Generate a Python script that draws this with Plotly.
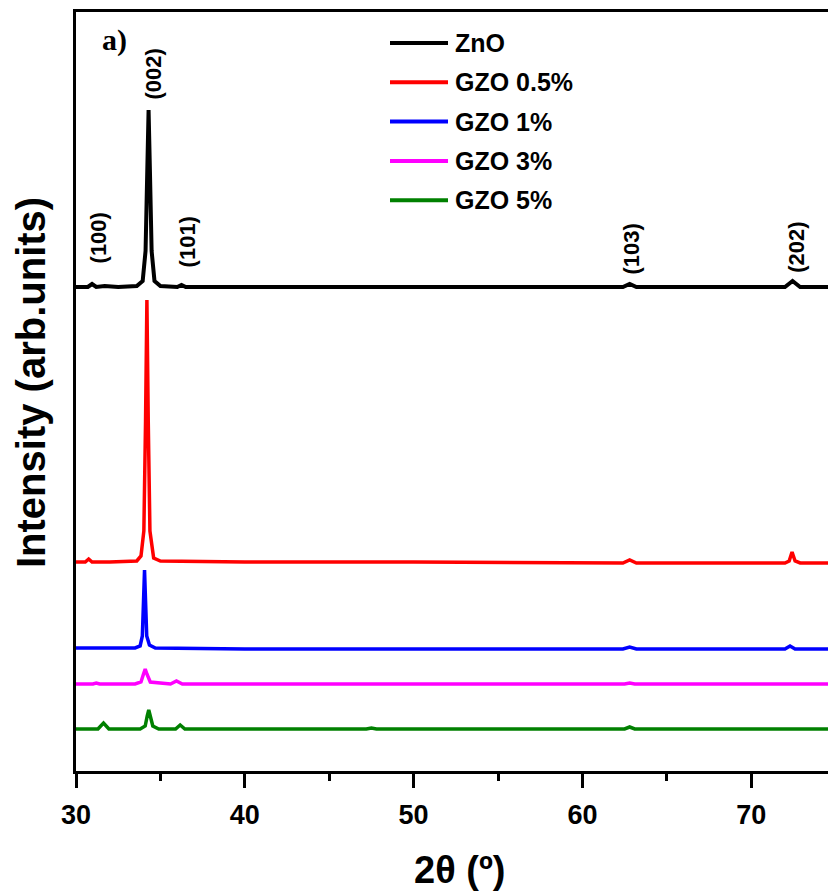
import plotly.graph_objects as go

# ---------------- data (2θ in degrees, intensity in arb. units, stacked) ----------------
names = ["ZnO", "GZO 0.5%", "GZO 1%", "GZO 3%", "GZO 5%"]
colors = ["#000000", "#ff0000", "#0000ff", "#ff00ff", "#008000"]

x_zno = [30, 30.7, 30.95, 31.2, 31.7, 32.5, 33.6, 33.95, 34.12, 34.22, 34.30, 34.38, 34.48, 34.65, 35.0,
         36.0, 36.25, 36.5, 40, 47.5, 55, 62.4, 62.8, 63.2, 72.0, 72.45, 72.9, 74.6]
y_zno = [484, 484, 487, 484, 485, 484, 485, 490, 520, 600, 661, 600, 520, 490, 485,
         484, 486, 484, 484, 484, 484, 484, 487, 484, 484, 490, 484, 484]

x_gzo05 = [30, 30.55, 30.75, 30.95, 32, 33.6, 33.85, 34.02, 34.12, 34.2, 34.28, 34.38, 34.6, 35.0,
           40, 50, 62.4, 62.8, 63.2, 72.0, 72.25, 72.42, 72.6, 72.9, 74.6]
y_gzo05 = [209, 209, 212, 209, 209, 210, 215, 240, 350, 471, 350, 240, 213, 210,
           209, 209, 208, 211, 208, 208, 210, 219, 210, 208, 208]

x_gzo1 = [30, 31.0, 33.5, 33.8, 33.93, 34.0, 34.06, 34.12, 34.19, 34.35, 34.7, 40, 50,
          62.4, 62.8, 63.2, 72.0, 72.3, 72.6, 74.6]
y_gzo1 = [123, 123, 123, 125, 135, 170, 201, 170, 135, 126, 123, 122, 122,
          122, 124, 122, 122, 125, 122, 122]

x_gzo3 = [30, 31.0, 31.2, 31.4, 33.5, 33.85, 34.0, 34.1, 34.2, 34.4, 35.6, 35.95, 36.3, 40, 50,
          62.5, 62.8, 63.1, 74.6]
y_gzo3 = [87, 87, 88, 87, 87, 89, 97, 102, 97, 89, 87, 90, 87, 87, 87,
          87, 88, 87, 87]

x_gzo5 = [30, 31.3, 31.63, 31.95, 33.8, 34.1, 34.22, 34.31, 34.4, 34.55, 34.9, 35.9, 36.17, 36.45,
          47.2, 47.5, 47.8, 62.5, 62.8, 63.1, 74.6]
y_gzo5 = [42, 42, 48, 42, 42, 45, 55, 61, 55, 45, 42, 42, 46, 42,
          42, 43, 42, 42, 44, 42, 42]

xs = [x_zno, x_gzo05, x_gzo1, x_gzo3, x_gzo5]
ys = [y_zno, y_gzo05, y_gzo1, y_gzo3, y_gzo5]

# Miller-index labels: (label, 2θ position, label centre intensity)
hkl_labels = ["(100)", "(002)", "(101)", "(103)", "(202)"]
hkl_x = [31.33, 34.59, 36.6, 62.85, 72.64]
hkl_y = [533, 697, 529, 522, 524]

x_ticks = [30, 40, 50, 60, 70]

# ---------------- layout geometry ----------------
W, H = 828, 895
ML, MR, MT, MB = 76, 0, 12, 124
PW, PH = W - ML - MR, H - MT - MB

def px_to_paper_x(px):
    return (px - ML) / PW

def px_to_paper_y(py):
    return (H - MB - py) / PH

FONT = "Liberation Sans, Arial, sans-serif"

fig = go.Figure()
for i in range(len(names)):
    fig.add_trace(go.Scatter(
        x=xs[i], y=ys[i], mode="lines", name=names[i],
        line=dict(color=colors[i], width=4 if i == 0 else 3.5),
        showlegend=False,
    ))

annotations = []
for lab, lx, ly in zip(hkl_labels, hkl_x, hkl_y):
    annotations.append(dict(
        x=lx, y=ly, xref="x", yref="y", text=lab, showarrow=False,
        textangle=-90, font=dict(family=FONT, size=22, color="black", weight="bold"),
        xanchor="center", yanchor="middle",
    ))

# panel label
annotations.append(dict(
    x=px_to_paper_x(114), y=px_to_paper_y(40), xref="paper", yref="paper",
    text="<b>a)</b>", showarrow=False,
    font=dict(family="Liberation Serif, Times New Roman, serif", size=30, color="black"),
    xanchor="center", yanchor="middle",
))

# axis titles
annotations.append(dict(
    x=px_to_paper_x(459), y=px_to_paper_y(870), xref="paper", yref="paper",
    text="2θ (º)", showarrow=False,
    font=dict(family=FONT, size=38, color="black", weight="bold"),
    xanchor="center", yanchor="middle",
))
annotations.append(dict(
    x=px_to_paper_x(31), y=px_to_paper_y(383), xref="paper", yref="paper",
    text="Intensity (arb.units)", showarrow=False, textangle=-90,
    font=dict(family=FONT, size=40, color="black", weight="bold"),
    xanchor="center", yanchor="middle",
))

# custom legend
shapes = []
leg_y0, leg_dy = 43, 39.3
for i, nm in enumerate(names):
    yy = px_to_paper_y(leg_y0 + i * leg_dy)
    shapes.append(dict(
        type="line", xref="paper", yref="paper",
        x0=px_to_paper_x(390), x1=px_to_paper_x(448), y0=yy, y1=yy,
        line=dict(color=colors[i], width=4),
    ))
    annotations.append(dict(
        x=px_to_paper_x(453), y=yy, xref="paper", yref="paper",
        text=nm, showarrow=False, xanchor="left", yanchor="middle",
        font=dict(family=FONT, size=25, color="black", weight="bold"),
    ))

fig.update_layout(
    width=W, height=H,
    margin=dict(l=ML, r=MR, t=MT, b=MB),
    paper_bgcolor="white", plot_bgcolor="white",
    showlegend=False,
    annotations=annotations,
    shapes=shapes,
    xaxis=dict(
        range=[30, 74.55], tickvals=x_ticks, ticktext=[str(v) for v in x_ticks],
        ticks="outside", ticklen=14, tickwidth=3, tickcolor="black",
        showline=True, linewidth=3, linecolor="black", mirror=True,
        showgrid=False, zeroline=False,
        tickfont=dict(family=FONT, size=27, color="black", weight="bold"),
        ticklabelstandoff=4,
        minor=dict(tickvals=[35, 45, 55, 65], ticks="outside", ticklen=7,
                   tickwidth=3, tickcolor="black", showgrid=False),
    ),
    yaxis=dict(
        range=[0, PH], showticklabels=False, ticks="",
        showline=True, linewidth=3, linecolor="black", mirror=False,
        showgrid=False, zeroline=False,
    ),
)

fig.write_html("out.html")
